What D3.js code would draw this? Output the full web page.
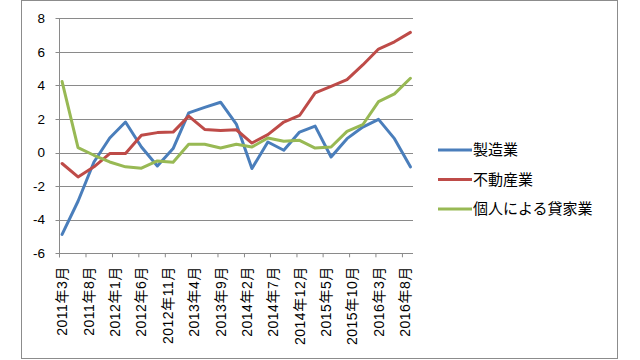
<!DOCTYPE html>
<html>
<head>
<meta charset="utf-8">
<script src="https://cdn.jsdelivr.net/npm/d3@7"></script>
<style>
  body { margin: 0; background: #fff; }
  svg { display: block; font-family: "Liberation Sans", "Noto Sans CJK JP", sans-serif; }
</style>
</head>
<body>
<div id="chart"></div>
<script>
// quarterly observations
const quarters = [
  "2011-03", "2011-06", "2011-09", "2011-12",
  "2012-03", "2012-06", "2012-09", "2012-12",
  "2013-03", "2013-06", "2013-09", "2013-12",
  "2014-03", "2014-06", "2014-09", "2014-12",
  "2015-03", "2015-06", "2015-09", "2015-12",
  "2016-03", "2016-06", "2016-09"
];

const seriesNames = ["製造業", "不動産業", "個人による貸家業"];
const seriesColors = ["#4a7ebb", "#be4b48", "#98b954"];

const manufacturing = [-4.87, -2.9, -0.56, 0.87, 1.82, 0.33, -0.8, 0.24, 2.37, 2.69, 3.0, 1.7,
  -0.95, 0.63, 0.14, 1.22, 1.58, -0.26, 0.83, 1.52, 1.98, 0.83, -0.85];
const realEstate = [-0.65, -1.45, -0.85, -0.06, -0.06, 1.03, 1.19, 1.22, 2.17, 1.38, 1.32, 1.36,
  0.57, 1.07, 1.82, 2.21, 3.56, 3.95, 4.35, 5.22, 6.17, 6.6, 7.16];
const rental = [4.23, 0.3, -0.16, -0.56, -0.85, -0.93, -0.5, -0.58, 0.5, 0.5, 0.27, 0.5,
  0.33, 0.87, 0.67, 0.73, 0.27, 0.33, 1.26, 1.66, 3.04, 3.5, 4.43];

const tickMonths = [
  "2011-03", "2011-08", "2012-01", "2012-06", "2012-11", "2013-04", "2013-09",
  "2014-02", "2014-07", "2014-12", "2015-05", "2015-10", "2016-03", "2016-08"
];
const tickLabels = [
  "2011年3月", "2011年8月", "2012年1月", "2012年6月", "2012年11月", "2013年4月", "2013年9月",
  "2014年2月", "2014年7月", "2014年12月", "2015年5月", "2015年10月", "2016年3月", "2016年8月"
];
const yTicks = [-6, -4, -2, 0, 2, 4, 6, 8];

const width = 640, height = 360;
const plot = { left: 59.5, right: 413, top: 18.3, bottom: 253.3 };

const parse = d3.timeParse("%Y-%m");
const mid = s => d3.timeDay.offset(parse(s), 15);

const svg = d3.select("#chart").append("svg")
  .attr("width", width)
  .attr("height", height);

// outer chart border
svg.append("rect")
  .attr("x", 21.5).attr("y", 0.5)
  .attr("width", 596).attr("height", 358)
  .attr("fill", "#fff")
  .attr("stroke", "#8c8c8c");

const x = d3.scaleTime()
  .domain([parse("2011-03"), parse("2016-10")])
  .range([plot.left, plot.right]);

const y = d3.scaleLinear()
  .domain([-6, 8])
  .range([plot.bottom, plot.top]);

// gridlines
svg.append("g")
  .selectAll("line")
  .data(yTicks)
  .join("line")
  .attr("x1", plot.left - 4)
  .attr("x2", plot.right)
  .attr("y1", d => Math.round(y(d)) + 0.5)
  .attr("y2", d => Math.round(y(d)) + 0.5)
  .attr("stroke", "#8a8a8a")
  .attr("stroke-width", 1);

// y axis line
svg.append("line")
  .attr("x1", plot.left).attr("x2", plot.left)
  .attr("y1", plot.top).attr("y2", plot.bottom + 4)
  .attr("stroke", "#8a8a8a");

// y labels
svg.append("g")
  .selectAll("text")
  .data(yTicks)
  .join("text")
  .attr("x", 45)
  .attr("y", d => y(d))
  .attr("dy", "0.35em")
  .attr("text-anchor", "end")
  .attr("font-size", 13.5)
  .attr("fill", "#000")
  .text(d => d);

// x ticks
svg.append("g")
  .selectAll("line")
  .data(tickMonths)
  .join("line")
  .attr("x1", d => x(parse(d)))
  .attr("x2", d => x(parse(d)))
  .attr("y1", plot.bottom)
  .attr("y2", plot.bottom + 4)
  .attr("stroke", "#8a8a8a");

// x labels rotated
svg.append("g")
  .selectAll("text")
  .data(tickMonths)
  .join("text")
  .attr("transform", d => `translate(${x(mid(d)) + 5},${plot.bottom + 13}) rotate(-90)`)
  .attr("text-anchor", "end")
  .attr("font-size", 14)
  .attr("letter-spacing", 0.5)
  .attr("fill", "#000")
  .text((d, i) => tickLabels[i]);

// series lines
const allSeries = [manufacturing, realEstate, rental];
const line = d3.line()
  .x((d, i) => x(mid(quarters[i])))
  .y(d => y(d));

svg.append("g")
  .selectAll("path")
  .data(allSeries)
  .join("path")
  .attr("d", d => line(d))
  .attr("fill", "none")
  .attr("stroke", (d, i) => seriesColors[i])
  .attr("stroke-width", 3)
  .attr("stroke-linejoin", "round")
  .attr("stroke-linecap", "round");

// legend
const legend = svg.append("g")
  .selectAll("g")
  .data(seriesNames)
  .join("g")
  .attr("transform", (d, i) => `translate(438,${150 + i * 29.5})`);

legend.append("line")
  .attr("x1", 0).attr("x2", 34)
  .attr("y1", 0).attr("y2", 0)
  .attr("stroke", (d, i) => seriesColors[i])
  .attr("stroke-width", 3);

legend.append("text")
  .attr("x", 35)
  .attr("y", 0)
  .attr("dy", "0.35em")
  .attr("font-size", 15)
  .attr("fill", "#000")
  .text(d => d);
</script>
</body>
</html>
